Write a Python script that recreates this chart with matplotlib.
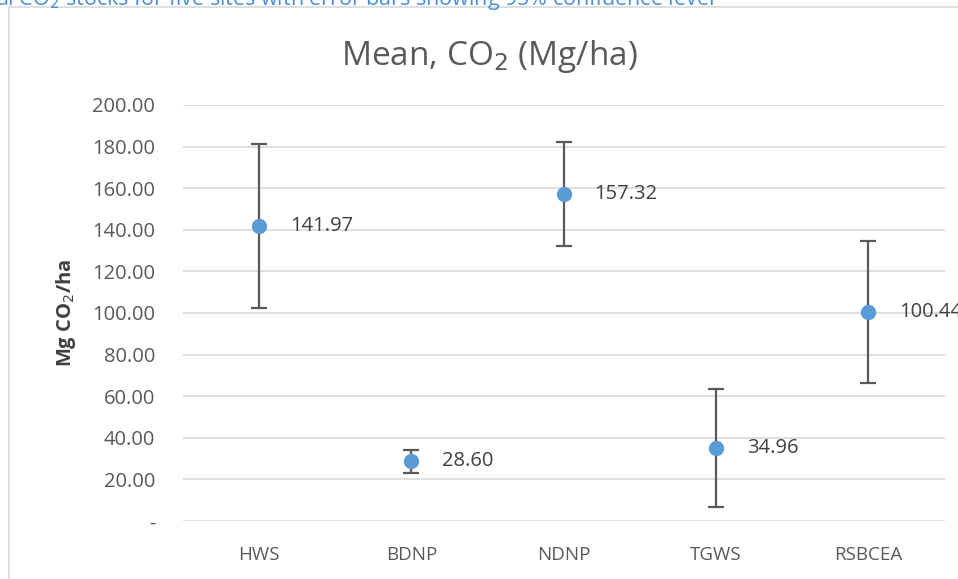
import matplotlib.pyplot as plt
import numpy as np

plt.rcParams['font.family'] = ['Open Sans', 'DejaVu Sans']

sites = ['HWS', 'BDNP', 'NDNP', 'TGWS', 'RSBCEA']
means = [141.97, 28.60, 157.32, 34.96, 100.44]
ci95 = [39.4, 5.3, 24.9, 28.4, 34.0]
yticks = [0, 20, 40, 60, 80, 100, 120, 140, 160, 180, 200]
ytick_labels = ['-', '20.00', '40.00', '60.00', '80.00', '100.00',
                '120.00', '140.00', '160.00', '180.00', '200.00']

grey = '#595959'
blue = '#5b9bd5'

fig = plt.figure(figsize=(9.58, 5.79), dpi=100)
ax = fig.add_axes([0.191, 0.1002, 0.795, 0.7185])

x = np.arange(len(sites))
ax.errorbar(x, means, yerr=ci95, fmt='o', color=blue, markersize=10,
            ecolor=grey, elinewidth=1.6, capsize=6, capthick=1.6, zorder=3)
for xi, m in zip(x, means):
    ax.annotate(f'{m:.2f}', (xi, m), xytext=(22, 0), textcoords='offset points',
                va='center', ha='left', fontsize=14.5, color='#404040')

ax.set_xlim(-0.5, len(sites) - 0.5)
ax.set_ylim(0, 200)
ax.set_yticks(yticks)
ax.set_yticklabels(ytick_labels, fontsize=14.5)
ax.set_xticks(x)
ax.set_xticklabels(sites, fontsize=13.5)
ax.grid(axis='y', color='#d9d9d9', linewidth=1.2, zorder=0)
ax.set_axisbelow(True)
for s in ax.spines.values():
    s.set_visible(False)
ax.tick_params(length=0, colors=grey)
ax.tick_params(axis='y', pad=20)
ax.tick_params(axis='x', pad=18)
ax.set_ylabel('Mg CO$_2$/ha', fontsize=14.5, fontweight='bold', color='#404040', labelpad=10)

fig.text(0.511, 0.902, 'Mean, CO$_2$ (Mg/ha)', ha='center', va='center', fontsize=24, color=grey)

# chart border, and the caption above it that is cut off in the original
fig.add_artist(plt.Rectangle((0.0095, -0.01), 1.1, 0.998, transform=fig.transFigure,
                             fill=False, edgecolor='#d9d9d9', linewidth=1.2))
fig.text(-0.004, 1.0, 'al CO$_2$ stocks for five sites with error bars showing 95% confidence level',
         ha='left', va='center', fontsize=15.5, color='#4a90d9')

fig.savefig('out.png', dpi=100)
